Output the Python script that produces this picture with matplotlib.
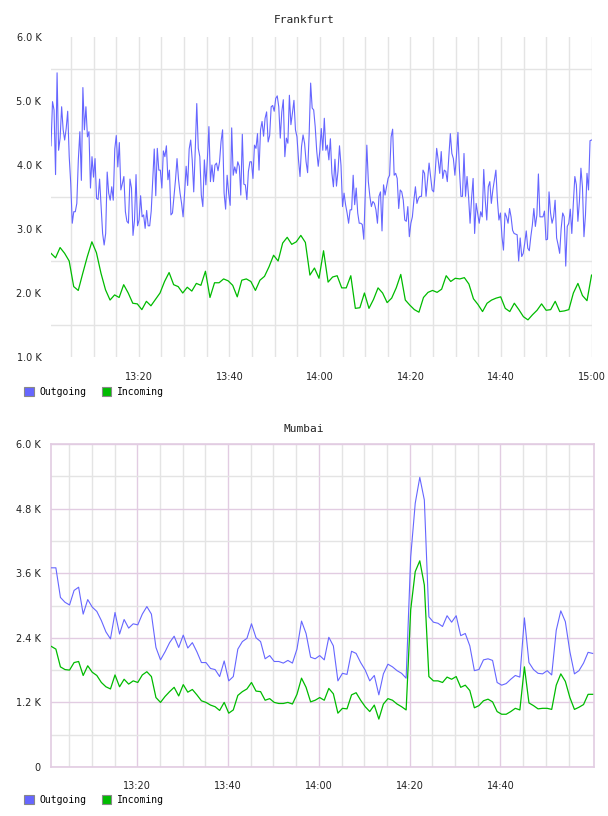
import numpy as np
import matplotlib
matplotlib.use("Agg")
from matplotlib import pyplot as plt
from matplotlib.patches import Patch
from matplotlib.ticker import FixedLocator, NullFormatter

# Frankfurt, outgoing (K), sampled ~every 20 s from 13:00 to 15:00
fra_out = [
    4.30, 4.99, 4.86, 3.85, 5.44, 4.23, 4.42, 4.91, 4.55, 4.39,
    4.57, 4.84, 4.13, 3.71, 3.09, 3.27, 3.27, 3.40, 4.08, 4.52,
    3.76, 5.21, 4.55, 4.91, 4.44, 4.52, 3.64, 4.13, 3.81, 4.10,
    3.48, 3.46, 3.78, 3.35, 2.93, 2.75, 2.93, 3.89, 3.56, 3.45,
    3.66, 3.45, 4.25, 4.46, 3.97, 4.35, 3.61, 3.71, 3.82, 3.27,
    3.12, 3.09, 3.78, 3.64, 2.90, 3.14, 3.85, 3.05, 3.14, 3.52,
    3.19, 3.22, 3.01, 3.29, 3.05, 3.05, 3.28, 3.77, 4.25, 3.52,
    4.26, 3.92, 3.92, 3.64, 4.22, 4.13, 4.30, 3.77, 3.92, 3.22,
    3.25, 3.51, 3.77, 4.10, 3.77, 3.56, 3.40, 3.19, 3.57, 3.98,
    3.68, 4.25, 4.39, 4.08, 3.58, 4.23, 4.96, 4.26, 4.13, 3.53,
    3.35, 4.08, 3.69, 4.10, 4.60, 3.74, 4.00, 3.74, 4.00, 4.03,
    3.91, 4.05, 4.37, 4.55, 3.56,
    3.31, 3.84, 3.56, 3.37, 4.58, 3.84, 3.97, 3.87, 4.05, 3.98,
    3.53, 4.48, 3.70, 3.69, 3.46, 3.90, 4.05, 4.05, 3.79, 4.31,
    4.26, 4.49, 3.92, 4.55, 4.68, 4.45, 4.73, 4.83, 4.36, 4.46,
    4.91, 4.93, 4.84, 5.04, 5.08, 4.91, 4.42, 4.83, 5.02, 4.13,
    4.42, 4.34, 5.09, 4.63, 4.81, 5.01, 4.55, 4.44, 4.08, 3.82,
    4.29, 4.47, 4.34, 4.05, 3.88, 4.47, 5.28, 4.89, 4.86, 4.60,
    4.22, 3.98, 4.21, 4.57, 4.23, 4.73, 4.23, 4.31, 4.08, 4.41,
    3.87, 3.66, 4.09, 3.67, 3.90, 4.30, 3.99, 3.35, 3.56, 3.38,
    3.25, 3.09, 3.30, 3.30, 3.84, 3.38, 3.64, 3.25, 3.09, 3.09,
    3.07, 2.84, 3.56, 4.31, 3.74, 3.51, 3.35, 3.43, 3.40, 3.30,
    3.09, 3.51, 3.58, 2.97, 3.69, 3.53, 3.66, 3.79, 3.84, 4.44,
    4.56, 3.84, 3.87, 3.79, 3.32, 3.61, 3.58, 3.45, 3.14,
    3.12, 3.35, 2.88, 3.09, 3.19, 3.45, 3.66, 3.40, 3.48, 3.51,
    3.51, 3.92, 3.87, 3.51, 3.77, 4.03, 3.82, 3.61, 3.58, 3.87,
    4.26, 4.08, 3.87, 4.21, 3.79, 3.92, 3.90, 3.74, 4.13, 4.49,
    4.18, 4.10, 3.84, 4.13, 4.51, 3.92, 3.51, 3.51, 4.18, 3.51,
    3.82, 3.51, 3.09, 3.48, 3.79, 2.93, 3.40, 3.25, 3.09, 3.27,
    3.19, 3.93, 3.45, 3.14, 3.66, 3.74, 3.40, 3.61, 3.77, 3.92,
    3.45, 3.14, 3.25, 2.88, 2.67, 3.25, 3.19, 3.09, 3.32, 3.19,
    2.98, 2.93, 2.92, 2.91, 2.50, 2.86, 2.57, 2.62, 2.78, 2.97,
    2.70, 2.66, 2.88, 3.06, 3.32, 3.04, 3.22, 3.86, 3.19, 3.19,
    3.19, 3.28, 2.83, 2.84, 3.58, 3.25, 3.09, 3.19, 3.45, 2.86,
    2.75, 2.62, 3.01, 3.25, 3.19, 2.42, 3.04, 3.09, 3.31, 2.93,
    3.40, 3.82, 3.69, 3.12, 3.43, 3.95, 3.66, 2.88, 3.22, 3.87,
    3.61, 4.38, 4.39,
]

# Frankfurt, incoming (K), one value per minute
fra_in = [
    2.62, 2.55, 2.71, 2.62, 2.50, 2.10, 2.04, 2.31, 2.57, 2.80,
    2.63, 2.31, 2.05, 1.89, 1.97, 1.93, 2.13, 2.00, 1.84, 1.83,
    1.74, 1.87, 1.80, 1.90, 2.00, 2.18, 2.32, 2.13, 2.10, 2.00,
    2.09, 2.03, 2.15, 2.12, 2.34, 1.93, 2.16, 2.16, 2.22, 2.19,
    2.12, 1.94, 2.20, 2.22, 2.18, 2.04, 2.20, 2.26, 2.41, 2.59,
    2.50, 2.78, 2.87, 2.76, 2.80, 2.90, 2.79, 2.28, 2.39, 2.23,
    2.66, 2.17, 2.25, 2.27, 2.08, 2.08, 2.27, 1.76, 1.77, 2.00,
    1.76, 1.90, 2.08, 2.00, 1.85, 1.92, 2.08, 2.29, 1.89, 1.81,
    1.74, 1.70, 1.93, 2.01, 2.04, 2.01, 2.06, 2.27, 2.18, 2.23,
    2.22, 2.24, 2.14, 1.91, 1.82, 1.71, 1.84, 1.89, 1.92, 1.94,
    1.76, 1.71, 1.84, 1.74, 1.63, 1.58, 1.66, 1.73, 1.83, 1.73,
    1.74, 1.87, 1.71, 1.72, 1.74, 2.00, 2.15, 1.96, 1.88, 2.28,
]

# Mumbai, one value per minute (K)
mum_out = [
    3.70, 3.70, 3.15, 3.06, 3.01, 3.28, 3.34, 2.84, 3.11, 2.97,
    2.89, 2.72, 2.51, 2.38, 2.87, 2.47, 2.74, 2.58, 2.66, 2.64,
    2.84, 2.98, 2.84, 2.22, 1.99, 2.14, 2.31, 2.43, 2.22, 2.45,
    2.21, 2.31, 2.14, 1.94, 1.94, 1.83, 1.81, 1.68, 1.97, 1.60,
    1.68, 2.19, 2.33, 2.39, 2.66, 2.40, 2.33, 2.01, 2.07, 1.96,
    1.96, 1.93, 1.98, 1.93, 2.19, 2.71, 2.48, 2.04, 2.01, 2.07,
    1.99, 2.41, 2.25, 1.60, 1.74, 1.72, 2.15, 2.11, 1.94, 1.80,
    1.60, 1.70, 1.34, 1.73, 1.91, 1.86, 1.79, 1.74, 1.65, 3.90,
    4.90, 5.38, 4.96, 2.79, 2.69, 2.67, 2.61, 2.81, 2.69, 2.81,
    2.44, 2.48, 2.25, 1.79, 1.81, 1.99, 2.01, 1.98, 1.57, 1.52,
    1.55, 1.63, 1.70, 1.67, 2.77, 1.94, 1.81, 1.74, 1.73, 1.79,
    1.71, 2.54, 2.90, 2.70, 2.14, 1.73, 1.79, 1.93, 2.13, 2.11,
]
mum_in = [
    2.24, 2.19, 1.86, 1.81, 1.80, 1.94, 1.96, 1.70, 1.88, 1.76,
    1.70, 1.57, 1.49, 1.45, 1.71, 1.49, 1.63, 1.54, 1.60, 1.57,
    1.71, 1.77, 1.68, 1.29, 1.20, 1.31, 1.40, 1.48, 1.32, 1.53,
    1.39, 1.44, 1.34, 1.23, 1.20, 1.15, 1.12, 1.05, 1.20, 1.00,
    1.06, 1.33, 1.40, 1.45, 1.57, 1.41, 1.40, 1.24, 1.27, 1.20,
    1.18, 1.18, 1.20, 1.17, 1.35, 1.65, 1.48, 1.21, 1.24, 1.29,
    1.24, 1.46, 1.36, 1.00, 1.09, 1.08, 1.34, 1.38, 1.24, 1.12,
    1.03, 1.15, 0.89, 1.17, 1.27, 1.24, 1.17, 1.12, 1.06, 2.92,
    3.63, 3.83, 3.38, 1.68, 1.60, 1.60, 1.57, 1.67, 1.63, 1.68,
    1.48, 1.52, 1.42, 1.10, 1.14, 1.23, 1.26, 1.21, 1.03, 0.98,
    0.98, 1.03, 1.09, 1.06, 1.86, 1.19, 1.14, 1.08, 1.09, 1.09,
    1.07, 1.52, 1.73, 1.59, 1.29, 1.07, 1.11, 1.16, 1.35, 1.35,
]

# x axis is minutes after 13:00
time_ticks = [20, 40, 60, 80, 100, 120]
time_labels = ["13:20", "13:40", "14:00", "14:20", "14:40", "15:00"]
fra_yticks = [1.0, 2.0, 3.0, 4.0, 5.0, 6.0]
mum_yticks = [0, 1.2, 2.4, 3.6, 4.8, 6.0]

OUT_COLOR = "#6666ff"
IN_COLOR = "#00bb00"
GRID = "#e4e4e4"
PINK = "#e2cce2"
TXT = "#222222"

fig = plt.figure(figsize=(6.08, 8.16), dpi=100)
W, H = 608, 816


def px_axes(left, top, right, bottom):
    return fig.add_axes([left / W, 1 - bottom / H, (right - left) / W, (bottom - top) / H])


def k_label(v):
    return "0" if v == 0 else f"{v:.1f} K"


def add_legend(y_px):
    handles = [Patch(facecolor=OUT_COLOR, edgecolor="#888888", lw=0.8, label="Outgoing"),
               Patch(facecolor=IN_COLOR, edgecolor="#888888", lw=0.8, label="Incoming")]
    fig.legend(handles=handles, loc="center left", bbox_to_anchor=(24 / W, 1 - y_px / H),
               ncol=2, frameon=False, borderpad=0, borderaxespad=0,
               handlelength=1.0, handleheight=1.0, handletextpad=0.55, columnspacing=1.6,
               prop={"family": "DejaVu Sans Mono", "size": 7})


# ---- Frankfurt ----
ax1 = px_axes(51, 37, 592, 357)
t_out = np.linspace(0.6, 120.0, len(fra_out))
t_in = np.linspace(0.6, 120.0, len(fra_in))
ax1.plot(t_out, fra_out, color=OUT_COLOR, lw=0.8, zorder=3)
ax1.plot(t_in, fra_in, color=IN_COLOR, lw=0.9, zorder=3)
ax1.set_xlim(0.6, 120.1)
ax1.set_ylim(1.0, 6.0)
ax1.set_xticks(time_ticks)
ax1.set_xticklabels(time_labels)
ax1.xaxis.set_minor_locator(FixedLocator(np.arange(5, 121, 5)))
ax1.set_yticks(fra_yticks)
ax1.set_yticklabels([k_label(v) for v in fra_yticks])
ax1.yaxis.set_minor_locator(FixedLocator([1.5, 2.5, 3.5, 4.5, 5.5]))
ax1.grid(which="minor", color=GRID, lw=1.0)
ax1.grid(which="major", axis="x", color=GRID, lw=1.0)
for s in ax1.spines.values():
    s.set_visible(False)
ax1.tick_params(which="both", length=0, labelsize=7, colors=TXT)
ax1.tick_params(axis="x", pad=11)
ax1.tick_params(axis="y", pad=7)
fig.text(0.5, 1 - 20 / H, "Frankfurt", ha="center", va="center",
         family="DejaVu Sans Mono", fontsize=8, color=TXT)
add_legend(392)

# ---- Mumbai ----
ax2 = px_axes(50.7, 444, 594, 767)
t_m = np.linspace(1.07, 120.3, len(mum_out))
ax2.plot(t_m, mum_out, color=OUT_COLOR, lw=0.8, zorder=3)
ax2.plot(t_m, mum_in, color=IN_COLOR, lw=0.9, zorder=3)
ax2.set_xlim(0.93, 120.6)
ax2.set_ylim(0, 6.0)
ax2.set_xticks(time_ticks[:-1])
ax2.set_xticklabels(time_labels[:-1])
ax2.xaxis.set_minor_locator(FixedLocator([m for m in range(5, 120, 5) if m % 20]))
ax2.set_yticks(mum_yticks)
ax2.set_yticklabels([k_label(v) for v in mum_yticks])
ax2.yaxis.set_minor_locator(FixedLocator([0.6, 1.8, 3.0, 4.2, 5.4]))
ax2.grid(which="minor", color=GRID, lw=1.0)
ax2.grid(which="major", color=PINK, lw=1.0)
for s in ax2.spines.values():
    s.set_color(PINK)
    s.set_linewidth(1.2)
ax2.tick_params(which="both", length=0, labelsize=7, colors=TXT)
ax2.tick_params(axis="x", pad=10)
ax2.tick_params(axis="y", pad=7)
fig.text(0.5, 1 - 429 / H, "Mumbai", ha="center", va="center",
         family="DejaVu Sans Mono", fontsize=8, color=TXT)
add_legend(800)

fig.savefig("out.png", dpi=100, facecolor="white")
